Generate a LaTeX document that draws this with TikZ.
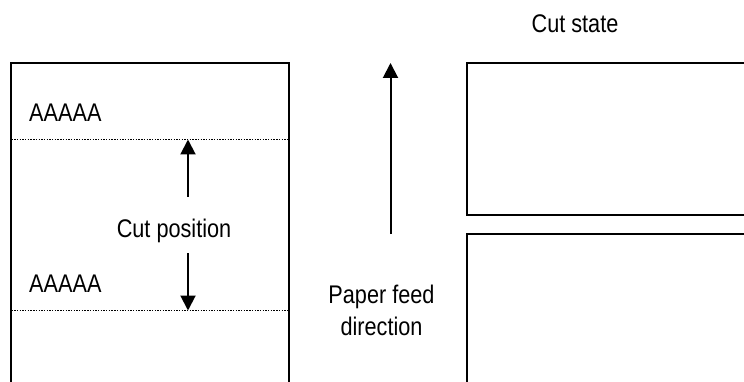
\documentclass[tikz,border=0pt]{standalone}
\usepackage{fontspec}
\setmainfont{Liberation Sans}[FakeStretch=0.85]
\usetikzlibrary{arrows.meta}
\begin{document}
\begin{tikzpicture}[x=1pt,y=-1pt,
  paper/.style={line width=2pt},
  cutline/.style={line width=1.1pt, dash pattern=on 1.4pt off 1.3pt},
  feedarrow/.style={line width=2pt, -{Triangle[length=15pt,width=15pt]}},
  lbl/.style={font=\fontsize{25.5}{30}\selectfont, inner sep=0pt, anchor=base}
]
\useasboundingbox (0,0) rectangle (744,382);
% left paper
\draw[paper] (10.5,385) -- (10.5,63) -- (289,63) -- (289,385);
\coordinate (c1l) at (11.5,139.5); \coordinate (c1r) at (288,139.5);
\coordinate (c2l) at (11.5,310.5); \coordinate (c2r) at (288,310.5);
\draw[cutline] (c1l) -- (c1r);
\draw[cutline] (c2l) -- (c2r);
\node[lbl, anchor=base west] (a1) at (29,122) {AAAAA};
\node[lbl, anchor=base west] (a2) at (29,292) {AAAAA};
\node[lbl] (cutpos) at (174,237) {Cut position};
\coordinate (upt) at (188,197); \coordinate (uph) at (188,139.5);
\coordinate (dnt) at (188,253); \coordinate (dnh) at (188,310.5);
\draw[feedarrow] (upt) -- (uph);
\draw[feedarrow] (dnt) -- (dnh);
% feed direction
\coordinate (ft) at (390.5,234); \coordinate (fh) at (390.5,63);
\draw[feedarrow] (ft) -- (fh);
\node[lbl] (pf1) at (381.5,303) {Paper feed};
\node[lbl] (pf2) at (381.5,335) {direction};
% cut state
\node[lbl] (cs) at (575,33) {Cut state};
\draw[paper] (750,63) -- (466.5,63) -- (466.5,215) -- (750,215);
\draw[paper] (750,234) -- (466.5,234) -- (466.5,390);
\end{tikzpicture}
\end{document}
